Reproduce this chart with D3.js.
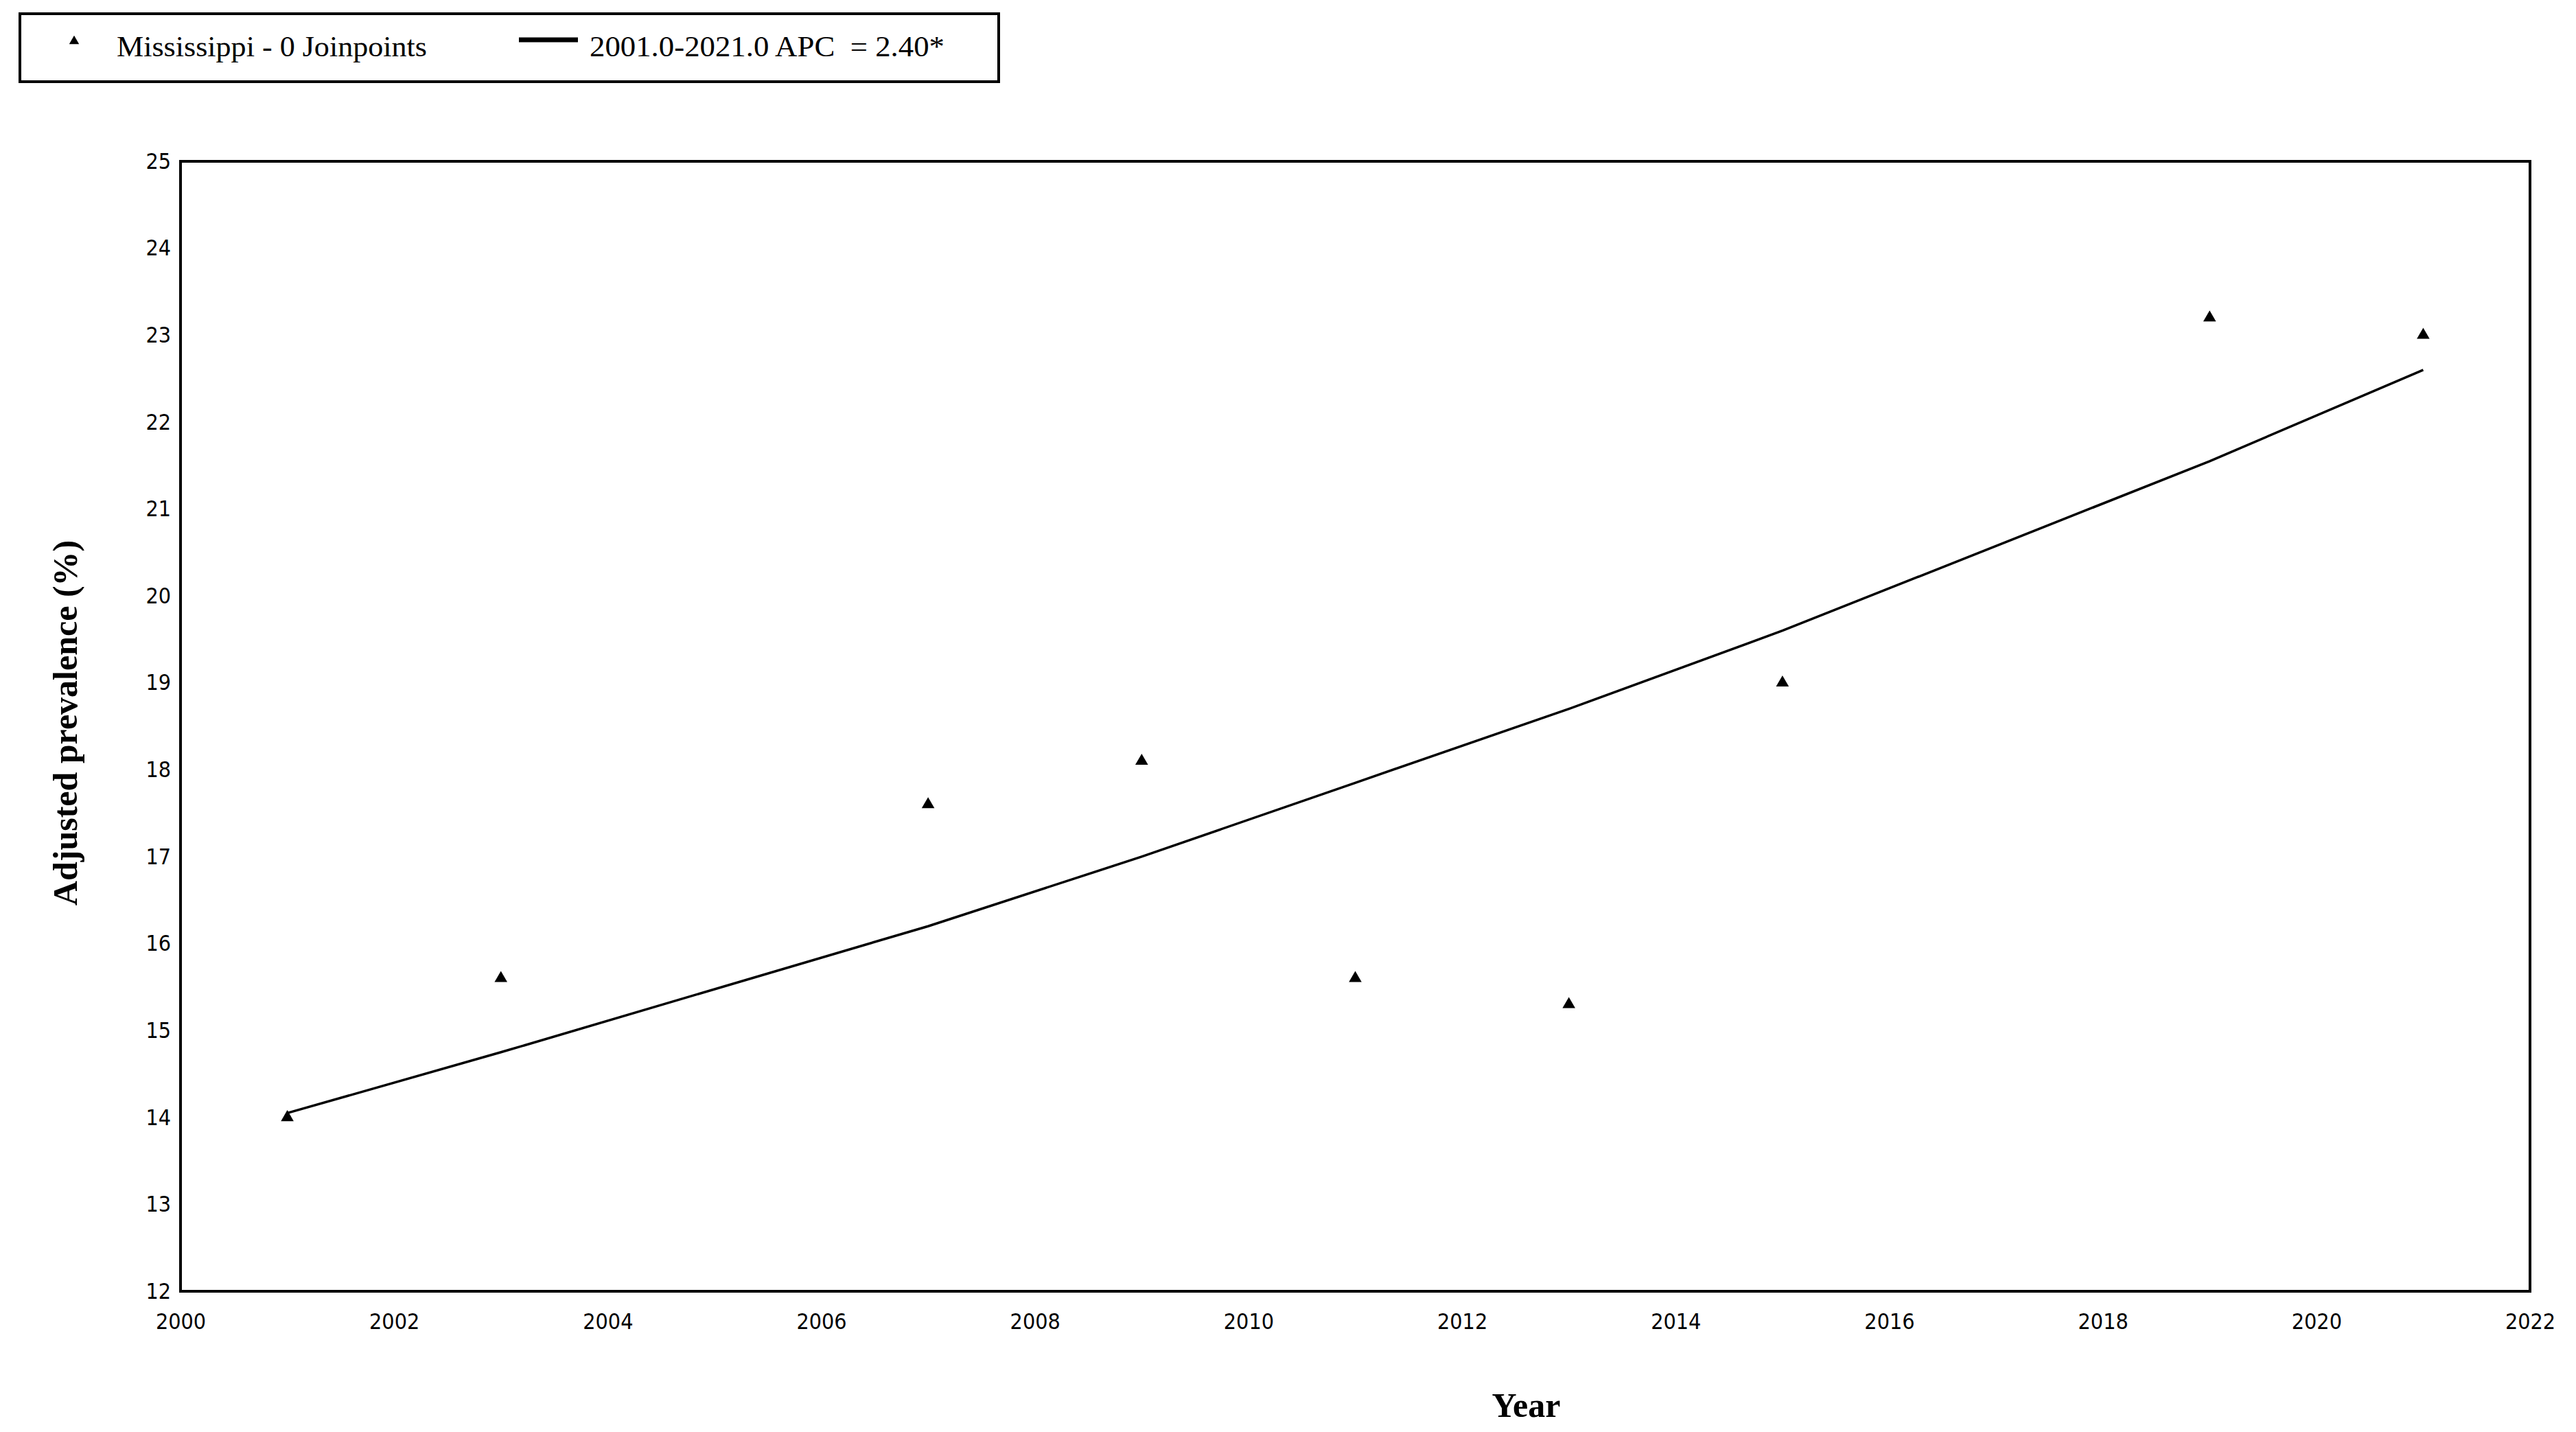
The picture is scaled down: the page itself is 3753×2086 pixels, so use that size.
<!DOCTYPE html>
<html>
<head>
<meta charset="utf-8">
<script src="https://cdn.jsdelivr.net/npm/d3@7"></script>
<style>
  body { margin: 0; background: #fff; }
</style>
</head>
<body>
<svg id="chart" width="3753" height="2086"></svg>
<script>
// observed values
const years = [2001, 2003, 2007, 2009, 2011, 2013, 2015, 2019, 2021];
const observed = [14.0, 15.6, 17.6, 18.1, 15.6, 15.3, 19.0, 23.2, 23.0];
// fitted joinpoint model
const fitted = [14.05, 14.75, 16.2, 17.0, 17.85, 18.7, 19.6, 21.55, 22.6];
const xTicks = [2000, 2002, 2004, 2006, 2008, 2010, 2012, 2014, 2016, 2018, 2020, 2022];
const yTicks = [12, 13, 14, 15, 16, 17, 18, 19, 20, 21, 22, 23, 24, 25];
const seriesLabel = "Mississippi - 0 Joinpoints";
const fitLabel = "2001.0-2021.0 APC  = 2.40*";

const svg = d3.select("#chart");
const margin = {top: 235, right: 67, bottom: 205, left: 263};
const width = 3753 - margin.left - margin.right,
      height = 2086 - margin.top - margin.bottom;
const g = svg.append("g").attr("transform", "translate(" + margin.left + "," + margin.top + ")");

const x = d3.scaleLinear().domain([2000, 2022]).range([0, width]);
const y = d3.scaleLinear().domain([12, 25]).range([height, 0]);

// frame
g.append("rect").attr("width", width).attr("height", height)
  .attr("fill", "none").attr("stroke", "#000").attr("stroke-width", 4);

const xAxis = g.append("g").attr("transform", "translate(0," + height + ")")
  .call(d3.axisBottom(x).tickValues(xTicks).tickFormat(d3.format("d")).tickSize(0).tickPadding(32));
const yAxis = g.append("g")
  .call(d3.axisLeft(y).tickValues(yTicks).tickSize(0).tickPadding(14));
[xAxis, yAxis].forEach(a => {
  a.select(".domain").remove();
  a.selectAll("text").attr("font-family", "'DejaVu Sans Condensed', 'DejaVu Sans', sans-serif")
    .attr("font-size", 32).attr("fill", "#000");
});

// fitted line
const line = d3.line().x((d, i) => x(years[i])).y(d => y(d));
g.append("path").datum(fitted)
  .attr("fill", "none").attr("stroke", "#000").attr("stroke-width", 3.5)
  .attr("d", line);

// observed triangles
const tri = d3.symbol().type(d3.symbolTriangle).size(150);
g.selectAll(".pt").data(observed).join("path")
  .attr("class", "pt")
  .attr("d", tri)
  .attr("transform", (d, i) => "translate(" + x(years[i]) + "," + y(d) + ")")
  .attr("fill", "#000");

// axis titles
svg.append("text").attr("x", margin.left + x(2012.6)).attr("y", 2064)
  .attr("text-anchor", "middle").attr("font-family", "'Liberation Serif', serif")
  .attr("font-weight", "bold").attr("font-size", 50).text("Year");
svg.append("text").attr("transform", "translate(112,1053) rotate(-90)")
  .attr("text-anchor", "middle").attr("font-family", "'Liberation Serif', serif")
  .attr("font-weight", "bold").attr("font-size", 50).text("Adjusted prevalence (%)");

// legend
const lg = svg.append("g");
lg.append("rect").attr("x", 29).attr("y", 20).attr("width", 1426).attr("height", 99)
  .attr("fill", "#fff").attr("stroke", "#000").attr("stroke-width", 4);
lg.append("path").attr("d", d3.symbol().type(d3.symbolTriangle).size(90))
  .attr("transform", "translate(108,60)").attr("fill", "#000");
lg.append("text").attr("x", 170).attr("y", 82)
  .attr("font-family", "'Liberation Serif', serif").attr("font-size", 42)
  .attr("textLength", 452).attr("lengthAdjust", "spacingAndGlyphs").text(seriesLabel);
lg.append("line").attr("x1", 756).attr("x2", 842).attr("y1", 58).attr("y2", 58)
  .attr("stroke", "#000").attr("stroke-width", 7);
lg.append("text").attr("x", 859).attr("y", 82)
  .attr("font-family", "'Liberation Serif', serif").attr("font-size", 42)
  .attr("textLength", 517).attr("lengthAdjust", "spacingAndGlyphs").attr("xml:space", "preserve").text(fitLabel);
</script>
</body>
</html>
